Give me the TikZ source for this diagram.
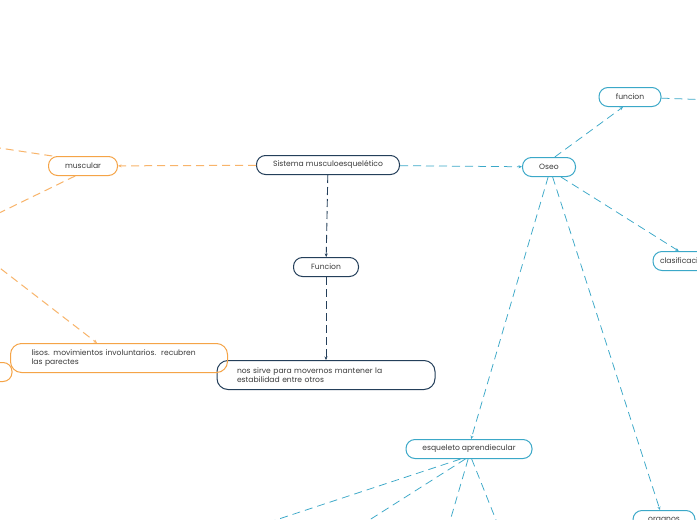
\documentclass[tikz,border=0pt]{standalone}
\usepackage{fontspec}
\setmainfont{Poppins}
\usetikzlibrary{arrows.meta,positioning}

\definecolor{navy}{HTML}{243F5A}
\definecolor{orng}{HTML}{F5A447}
\definecolor{orngline}{HTML}{F8B46A}
\definecolor{teal}{HTML}{3BA8C8}
\definecolor{txt}{HTML}{3A3A3A}

\begin{document}
\begin{tikzpicture}[
        x=1pt, y=-1pt,
        every node/.style={font=\fontsize{7.6}{9.4}\selectfont, text=txt},
        pill/.style={draw, line width=1pt, rounded corners=9pt,
            minimum height=19pt, inner sep=2pt},
        note/.style={draw, line width=1pt, rounded corners=11pt, align=left,
            minimum height=29pt, inner ysep=4pt},
        darr/.style={-{Stealth[length=3.5pt, width=3pt]}, navy, line width=0.9pt,
            dash pattern=on 8pt off 4pt},
        oarr/.style={-{Stealth[length=3.5pt, width=3pt]}, orngline, line width=1pt,
            dash pattern=on 8pt off 5pt},
        tarr/.style={-{Stealth[length=3.5pt, width=3pt]}, teal, line width=0.75pt,
            dash pattern=on 8pt off 5pt},
        oline/.style={orngline, line width=1pt, dash pattern=on 8pt off 5pt},
        tline/.style={teal, line width=0.75pt, dash pattern=on 8pt off 5pt}
    ]
    \useasboundingbox (0,0) rectangle (697,520);
    \fill[white] (0,0) rectangle (697,520);
    \clip (0,0) rectangle (697,520);

    % centre
    \node[pill, draw=navy, minimum width=143pt] (sis) at (328,165) {Sistema musculoesquelético};
    \node[pill, draw=navy, minimum width=65pt] (fun) at (326,267) {Funcion};
    \node[note, draw=navy, text width=178pt, inner xsep=20pt] (nos) at (326,375)
        {nos sirve para movernos mantener la\\estabilidad entre otros};

    % muscular side
    \node[pill, draw=orng, minimum width=69pt] (mus) at (83,166) {muscular};
    \node[pill, draw=orng, minimum width=60pt] (izq) at (-18,372) {};
    \node[note, draw=orng, text width=175pt, inner xsep=21pt] (lis) at (119,358)
        {lisos. movimientos involuntarios.\ \ recubren\\las parectes};
    \coordinate (m1) at (-40,142);
    \coordinate (m2) at (-40,232);
    \coordinate (m3) at (-30,245);

    % oseo side
    \node[pill, draw=teal, minimum width=53pt] (ose) at (549,167) {Oseo};
    \node[pill, draw=teal, minimum width=62pt] (ofun) at (630,97) {funcion};
    \node[pill, draw=teal, minimum width=80pt, text width=66pt, align=left] (cla) at (693,261) {clasificacion};
    \node[pill, draw=teal, minimum width=62pt] (org) at (664,520) {organos};
    \node[pill, draw=teal, minimum width=126pt] (esq) at (469,449) {esqueleto aprendiecular};
    \coordinate (f1) at (740,101);
    \coordinate (e1) at (200,545);
    \coordinate (e2) at (330,545);
    \coordinate (e3) at (443,545);
    \coordinate (e4) at (506,545);

    % connectors
    \draw[darr] (sis) -- (fun);
    \draw[darr] (fun) -- (nos);
    \draw[oarr] (sis) -- (mus);
    \draw[oline] (mus.162) -- (m1);
    \draw[oline] (mus.232) -- (m2);
    \draw[oarr] (m3) -- (lis.north west -| 97,0);
    \draw[tarr] (sis) -- (ose);
    \draw[tarr] (ose.60) -- (ofun.235);
    \draw[tline] (ofun) -- (f1);
    \draw[tarr] (ose.320) -- (cla.145);
    \draw[tarr] (ose.290) -- (org.112);
    \draw[tarr] (ose.265) -- (esq.78);
    \draw[tline] (esq.230) -- (e1);
    \draw[tline] (esq.250) -- (e2);
    \draw[tline] (esq.265) -- (e3);
    \draw[tline] (esq.285) -- (e4);
\end{tikzpicture}
\end{document}
